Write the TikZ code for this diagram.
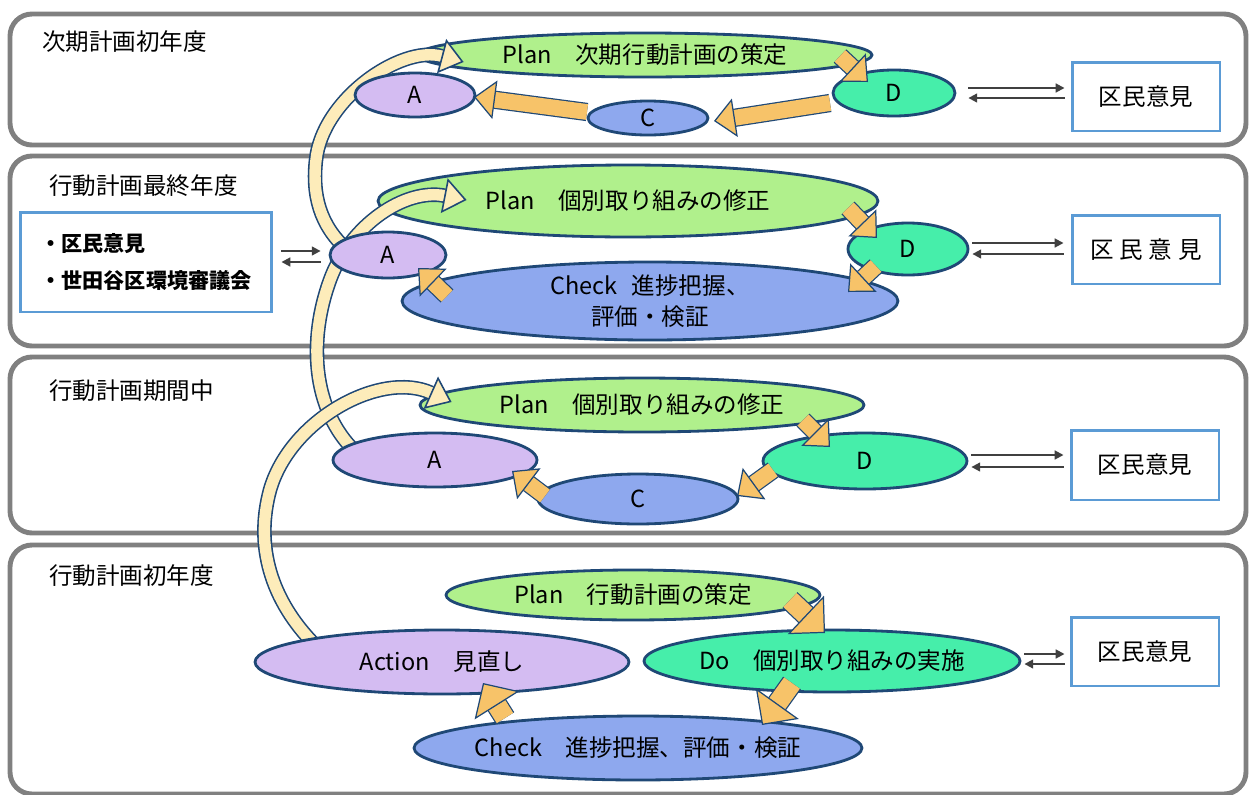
\documentclass[tikz,border=0pt]{standalone}
\usepackage{fontspec}
\setmainfont{Noto Sans CJK JP}
\usetikzlibrary{shapes.geometric,arrows.meta,calc}
\pgfdeclarelayer{back}
\pgfdeclarelayer{mid}
\pgfsetlayers{back,mid,main}
\definecolor{edge}{RGB}{31,72,118}
\definecolor{planG}{RGB}{176,240,140}
\definecolor{lilac}{RGB}{212,188,242}
\definecolor{blueC}{RGB}{142,168,238}
\definecolor{doG}{RGB}{70,238,170}
\definecolor{orng}{RGB}{247,195,105}
\definecolor{cream}{RGB}{253,236,186}
\definecolor{panelgray}{RGB}{128,128,128}
\definecolor{boxblue}{RGB}{91,155,213}
\definecolor{arrgray}{RGB}{64,64,64}

\begin{document}
\begin{tikzpicture}[x=0.02cm,y=-0.02cm,
  every node/.style={font=\fontsize{13.4}{17.6}\selectfont},
  panel/.style={draw=panelgray,line width=2.8pt,rounded corners=0.44cm,fill=white},
  oval/.style={ellipse,draw=edge,line width=1.6pt,inner sep=0pt,align=center},
  kubox/.style={draw=boxblue,line width=1.7pt,fill=white,minimum width=2.96cm,minimum height=1.38cm},
  band/.style={draw=edge,line width=0.9pt,double=cream,double distance=6.5pt,shorten <=-6pt,
    -{Triangle[width=20pt,length=13pt,fill=cream,line width=0.9pt]}},
  blk/.style={draw=edge,line width=0.7pt,double=orng,double distance=9pt,
    -{Triangle[width=22pt,length=12pt,fill=orng,line width=0.7pt]}},
  blkbig/.style={draw=edge,line width=0.7pt,double=orng,double distance=11pt,
    -{Triangle[width=30pt,length=15pt,fill=orng,line width=0.7pt]}},
  thinar/.style={draw=arrgray,line width=1.1pt,-{Triangle[length=5pt,width=5pt]}}]
\useasboundingbox (0,0) rectangle (1252,795);

\begin{pgfonlayer}{back}
% Quadros
\draw[panel] (10,14) rectangle (1246,145);
\draw[panel] (10,156) rectangle (1246,346);
\draw[panel] (10,357) rectangle (1246,533);
\draw[panel] (10,545) rectangle (1246,794);
\node (t1) at (36,42) [anchor=west] {次期計画初年度};
\node (t2) at (43,186) [anchor=west] {行動計画最終年度};
\node (t3) at (43,391) [anchor=west] {行動計画期間中};
\node (t4) at (43,576) [anchor=west] {行動計画初年度};
% Plan
\node (plan1) at (645,55) [oval,fill=planG,minimum width=9.08cm,minimum height=0.88cm] {Plan　次期行動計画の策定};
\node (plan2) at (628,201) [oval,fill=planG,minimum width=10cm,minimum height=1.44cm] {Plan　個別取り組みの修正};
\node (plan3) at (642,405) [oval,fill=planG,minimum width=8.88cm,minimum height=1.08cm] {Plan　個別取り組みの修正};
\node (plan4) at (633,595) [oval,fill=planG,minimum width=7.48cm,minimum height=1cm] {Plan　行動計画の策定};
\end{pgfonlayer}

% Ciclos
\node (a1) at (415,95) [oval,fill=lilac,minimum width=2.4cm,minimum height=0.88cm] {A};
\node (c1) at (648,118) [oval,fill=blueC,minimum width=2.4cm,minimum height=0.68cm] {C};
\node (d1) at (894,93) [oval,fill=doG,minimum width=2.44cm,minimum height=0.92cm] {D};
\node (a2) at (388,255) [oval,fill=lilac,minimum width=2.32cm,minimum height=0.92cm] {A};
\node (d2) at (908,249) [oval,fill=doG,minimum width=2.4cm,minimum height=1.04cm] {D};
\node (chk2) at (650,301) [oval,fill=blueC,minimum width=9.92cm,minimum height=1.56cm] {Check\hspace{0.6em}進捗把握、\\評価・検証};
\node (a3) at (435,460) [oval,fill=lilac,minimum width=4.08cm,minimum height=1.08cm] {A};
\node (d3) at (865,461) [oval,fill=doG,minimum width=4.08cm,minimum height=1.12cm] {D};
\node (c3) at (638,499) [oval,fill=blueC,minimum width=4cm,minimum height=1cm] {C};
\node (act4) at (442,662) [oval,fill=lilac,minimum width=7.48cm,minimum height=1.28cm] {Action　見直し};
\node (do4) at (832,661) [oval,fill=doG,minimum width=7.48cm,minimum height=1.24cm] {Do　個別取り組みの実施};
\node (chk4) at (638,748) [oval,fill=blueC,inner xsep=-6pt,minimum width=8.96cm,minimum height=1.28cm] {Check　進捗把握、評価・検証};

% Setas entre anos
\begin{pgfonlayer}{mid}
\draw[band] (a2.165) .. controls (320,225) and (312,195) .. (316,160)
  .. controls (322,100) and (400,45) .. ($(plan1.west)+(47,7)$);
\draw[band] (a3.170) .. controls (312,410) and (308,340) .. (330,280)
  .. controls (350,225) and (405,188) .. ($(plan2.west)+(90,-1)$);
\draw[band] (act4.170) .. controls (270,600) and (255,545) .. (270,490)
  .. controls (290,420) and (380,370) .. ($(plan3.west)+(33,-3)$);
\end{pgfonlayer}

% Setas do ciclo
\draw[blk] ($(plan1.center)+(195,1)$) -- ($(d1.center)+(-26,-11)$);
\draw[blk] ($(d1.center)+(-64,10)$) -- ($(c1.center)+(66,3)$);
\draw[blk] ($(c1.center)+(-61,-6)$) -- ($(a1.center)+(59,2)$);
\draw[blk] ($(plan2.center)+(220,7)$) -- ($(d2.center)+(-31,-11)$);
\draw[blk] ($(d2.center)+(-32,17)$) -- ($(chk2.center)+(198,-9)$);
\draw[blk] ($(chk2.center)+(-203,-5)$) -- ($(a2.center)+(30,13)$);
\draw[blk] ($(plan3.center)+(161,15)$) -- ($(d3.center)+(-35,-14)$);
\draw[blk] ($(d3.center)+(-92,9)$) -- ($(c3.center)+(99,-3)$);
\draw[blk] ($(c3.center)+(-93,-3)$) -- ($(a3.center)+(77,11)$);
\draw[blkbig] ($(plan4.center)+(157,5)$) -- ($(do4.center)+(-7,-28)$);
\draw[blkbig] ($(do4.center)+(-40,22)$) -- ($(chk4.center)+(124,-23)$);
\draw[blkbig] ($(chk4.center)+(-133,-30)$) -- ($(act4.center)+(41,21)$);

% Opiniões
\node (box1) at (1146,96.5) [kubox] {区民意見};
\node (box2) at (1146,249.5) [kubox] {区\hspace{0.25em}民\hspace{0.25em}意\hspace{0.25em}見};
\node (box3) at (1145,465) [kubox,minimum height=1.4cm] {区民意見};
\node (box4) at (1145,651.5) [kubox] {区民意見};
\node (lbox) at (146,262) [kubox,minimum width=5.04cm,minimum height=2cm,align=left,
  font=\bfseries\fontsize{12}{21}\selectfont] {・区民意見\\・世田谷区環境審議会};

\draw[thinar] ($(d1.east)+(12,-5)$) -- ($(d1.east -| box1.west)+(-6,-5)$);
\draw[thinar] ($(d1.east -| box1.west)+(-6,5)$) -- ($(d1.east)+(12,5)$);
\draw[thinar] ($(d2.east)+(3,-6)$) -- ($(d2.east -| box2.west)+(-7,-6)$);
\draw[thinar] ($(d2.east -| box2.west)+(-7,5)$) -- ($(d2.east)+(3,5)$);
\draw[thinar] ($(d3.east)+(3,-6)$) -- ($(d3.east -| box3.west)+(-6,-6)$);
\draw[thinar] ($(d3.east -| box3.west)+(-6,6)$) -- ($(d3.east)+(3,6)$);
\draw[thinar] ($(do4.east)+(3,-7)$) -- ($(do4.east -| box4.west)+(-5,-7)$);
\draw[thinar] ($(do4.east -| box4.west)+(-5,3)$) -- ($(do4.east)+(3,3)$);
\draw[thinar] ($(a2.west -| lbox.east)+(8,-4)$) -- ($(a2.west)+(-8,-4)$);
\draw[thinar] ($(a2.west)+(-8,7)$) -- ($(a2.west -| lbox.east)+(8,7)$);
\end{tikzpicture}
\end{document}
